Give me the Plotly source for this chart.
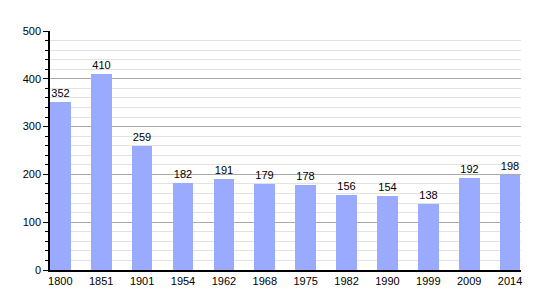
import plotly.graph_objects as go

years = ["1800", "1851", "1901", "1954", "1962", "1968", "1975", "1982", "1990", "1999", "2009", "2014"]
population = [352, 410, 259, 182, 191, 179, 178, 156, 154, 138, 192, 198]
y_ticks = [0, 100, 200, 300, 400, 500]

bw = 0.506
xpos = [i + bw / 2 for i in range(len(years))]

fig = go.Figure()
fig.add_trace(go.Bar(
    x=xpos, y=population, width=bw,
    marker=dict(color="#99aaff", line=dict(width=0)),
    text=[str(v) for v in population], textposition="outside",
    textfont=dict(family="Liberation Sans, Arial, sans-serif", size=11, color="#000"),
    cliponaxis=False,
))
fig.update_layout(
    width=550, height=300,
    margin=dict(l=50, r=29, t=31, b=30),
    paper_bgcolor="white", plot_bgcolor="white",
    showlegend=False,
    font=dict(family="Liberation Sans, Arial, sans-serif", size=11, color="#000"),
    bargap=0,
)
fig.update_xaxes(
    range=[0, 11.52], tickvals=xpos, ticktext=years,
    showgrid=False, showline=True, linecolor="black", linewidth=1.5,
    ticks="", zeroline=False, fixedrange=True,
)
fig.update_yaxes(
    range=[0, 500], tickvals=y_ticks,
    showgrid=True, gridcolor="#aaaaaa", gridwidth=1,
    showline=True, linecolor="black", linewidth=1.5,
    ticks="outside", ticklen=5, tickcolor="black",
    minor=dict(dtick=20, showgrid=True, gridcolor="#e2e2e2", ticks="outside", ticklen=3, tickcolor="black"),
    zeroline=False, fixedrange=True,
)
fig.write_html("out.html")
